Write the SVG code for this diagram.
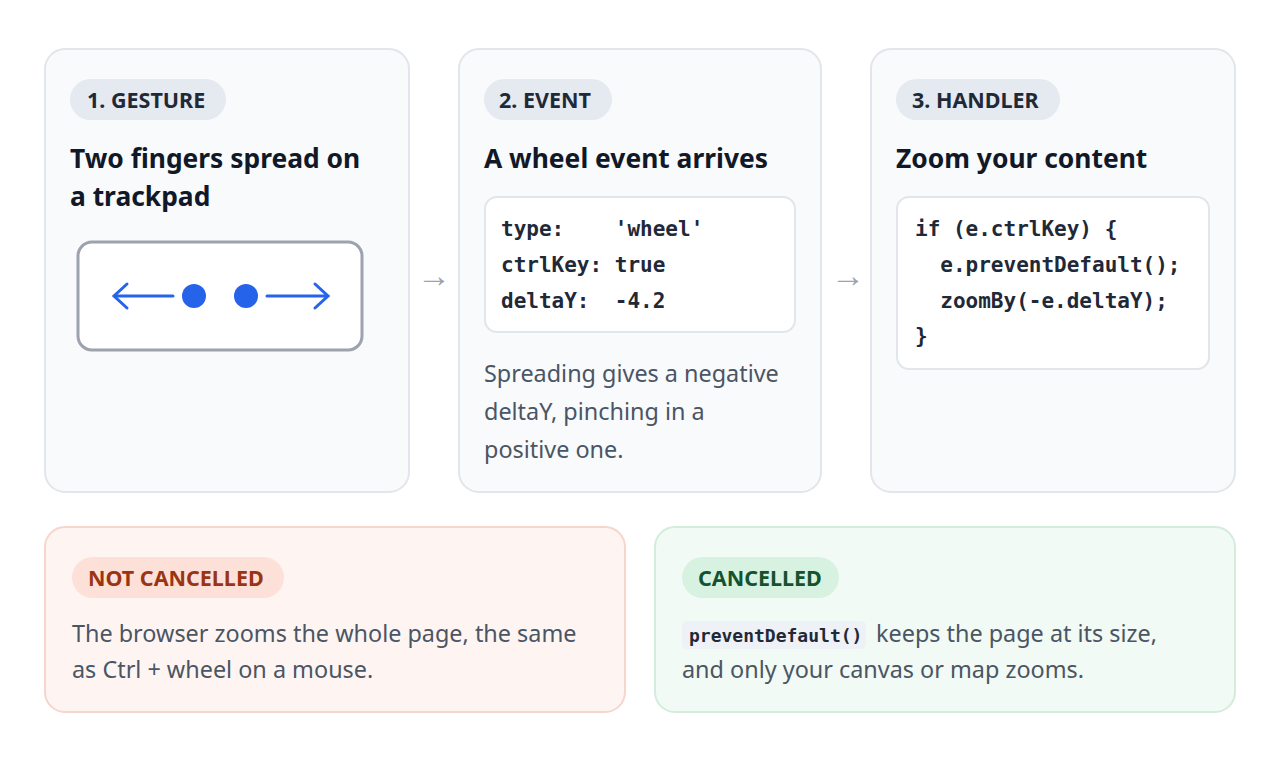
<svg xmlns="http://www.w3.org/2000/svg" width="1280" height="766" viewBox="0 0 1280 766">
<style>
.card{fill:#f8fafc;stroke:#e2e5ea;stroke-width:2}
.pill{fill:#e5e9f0}
.pt{font-family:"Noto Sans","Open Sans",sans-serif;font-weight:700;font-size:21.5px;fill:#1f2937}
.h{font-family:"Noto Sans","Open Sans",sans-serif;font-weight:700;font-size:26.4px;fill:#111827}
.code{fill:#fff;stroke:#e2e5ea;stroke-width:2}
.m{font-family:"DejaVu Sans Mono",monospace;font-weight:700;font-size:21px;fill:#1f2937;white-space:pre}
.b{font-family:"Noto Sans","Open Sans",sans-serif;font-size:23.4px;fill:#4b5563}
.arr{font-family:"Noto Sans",sans-serif;font-size:34px;fill:#9ca3af}
</style>
<rect width="1280" height="766" fill="#fff"/>
<g id="gesture">
<rect class="card" x="45" y="49" width="364" height="443" rx="20"/>
<rect class="pill" x="70" y="79" width="156" height="41" rx="20.5"/>
<text class="pt" x="87" y="108">1. GESTURE</text>
<text class="h" x="70" y="168">Two fingers spread on</text>
<text class="h" x="70" y="206">a trackpad</text>
<rect x="78" y="242" width="284" height="108" rx="14" fill="#fff" stroke="#9ca3af" stroke-width="3"/>
<g stroke="#2563eb" stroke-width="3" fill="none" stroke-linecap="round">
<line x1="115" y1="296" x2="173" y2="296"/><polyline points="127,284 114,296 127,308"/>
<line x1="267" y1="296" x2="327" y2="296"/><polyline points="315,284 328,296 315,308"/>
</g>
<circle cx="194" cy="296" r="12" fill="#2563eb"/><circle cx="246" cy="296" r="12" fill="#2563eb"/>
</g>
<g id="event">
<rect class="card" x="459" y="49" width="362" height="443" rx="20"/>
<rect class="pill" x="484" y="79" width="128" height="41" rx="20.5"/>
<text class="pt" x="499" y="108">2. EVENT</text>
<text class="h" x="484" y="168">A wheel event arrives</text>
<rect class="code" x="485" y="197" width="310" height="135" rx="12"/>
<text class="m" x="501" y="236">type:    'wheel'</text>
<text class="m" x="501" y="272">ctrlKey: true</text>
<text class="m" x="501" y="308">deltaY:  -4.2</text>
<text class="b" x="484" y="382">Spreading gives a negative</text>
<text class="b" x="484" y="420">deltaY, pinching in a</text>
<text class="b" x="484" y="458">positive one.</text>
</g>
<g id="handler">
<rect class="card" x="871" y="49" width="364" height="443" rx="20"/>
<rect class="pill" x="896" y="79" width="164" height="41" rx="20.5"/>
<text class="pt" x="912" y="108">3. HANDLER</text>
<text class="h" x="896" y="168">Zoom your content</text>
<rect class="code" x="897" y="197" width="312" height="172" rx="12"/>
<text class="m" x="915" y="236">if (e.ctrlKey) {</text>
<text class="m" x="915" y="272">  e.preventDefault();</text>
<text class="m" x="915" y="308">  zoomBy(-e.deltaY);</text>
<text class="m" x="915" y="343">}</text>
</g>
<g id="connectors">
<text class="arr" x="434" y="287" text-anchor="middle">→</text>
<text class="arr" x="848" y="287" text-anchor="middle">→</text>
</g>
<g id="not-cancelled">
<rect x="45" y="527" width="580" height="185" rx="20" fill="#fef5f3" stroke="#f6d5cc" stroke-width="2"/>
<rect x="72" y="557" width="212" height="41" rx="20.5" fill="#fde1d8"/>
<text class="pt" x="88" y="586" style="fill:#9a3412">NOT CANCELLED</text>
<text class="b" x="72" y="642">The browser zooms the whole page, the same</text>
<text class="b" x="72" y="678">as Ctrl + wheel on a mouse.</text>
</g>
<g id="cancelled">
<rect x="655" y="527" width="580" height="185" rx="20" fill="#f1faf4" stroke="#d3ecdc" stroke-width="2"/>
<rect x="682" y="557" width="157" height="41" rx="20.5" fill="#d8f2e2"/>
<text class="pt" x="698" y="586" style="fill:#14532d">CANCELLED</text>
<rect x="682" y="621" width="184" height="28" rx="5" fill="#eef1f6"/>
<text class="m" x="689" y="642" style="font-size:18px">preventDefault()</text>
<text class="b" x="876" y="642">keeps the page at its size,</text>
<text class="b" x="682" y="678">and only your canvas or map zooms.</text>
</g>
</svg>
